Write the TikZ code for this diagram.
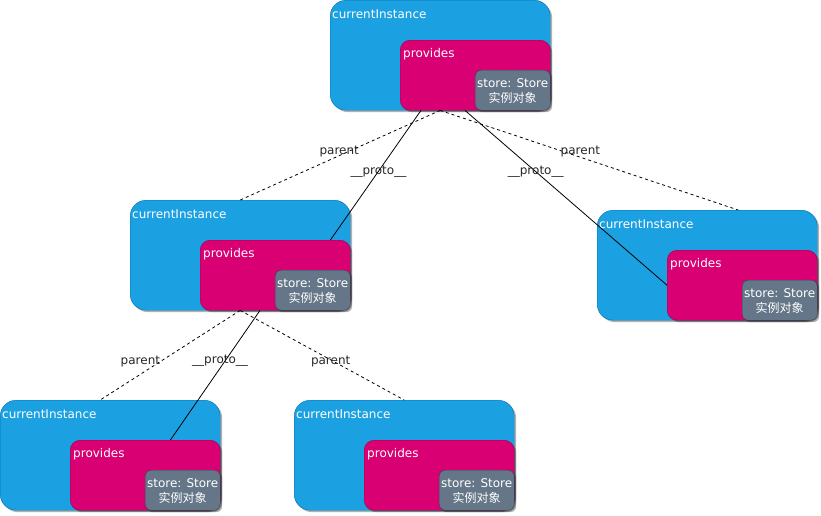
\documentclass[tikz,border=0pt]{standalone}
\usepackage{fontspec}
\setmainfont{DejaVu Sans}
\newfontfamily\cjk{Noto Sans CJK SC}
\usepackage{tikz}
\usetikzlibrary{arrows.meta, positioning, calc, shadows}
\definecolor{instFill}{HTML}{1BA1E2}
\definecolor{instLine}{HTML}{006EAF}
\definecolor{provFill}{HTML}{D80073}
\definecolor{provLine}{HTML}{A50040}
\definecolor{storeFill}{HTML}{647687}
\definecolor{storeLine}{HTML}{314354}
\newcommand{\storetext}{\raisebox{-2pt}[\height][\depth]{\begin{tabular}{@{}c@{}}store: Store\\{\cjk 实例对象}\end{tabular}}}
\tikzset{
	boxshadow/.style={drop shadow={shadow xshift=2pt, shadow yshift=-2pt, opacity=0.3, fill=black}},
	instbox/.style={draw=instLine, fill=instFill, rounded corners=16pt, minimum width=220pt, minimum height=110pt, anchor=north west, boxshadow},
	provbox/.style={draw=provLine, fill=provFill, rounded corners=10pt, minimum width=150pt, minimum height=70pt, anchor=south east, boxshadow},
	storebox/.style={draw=storeLine, fill=storeFill, rounded corners=6pt, minimum width=75pt, minimum height=40pt, anchor=south east, inner sep=0pt, text=white, font=\fontsize{12}{15}\selectfont, boxshadow},
	title/.style={anchor=west, inner sep=0pt, text=white, font=\fontsize{12}{14}\selectfont},
}

\begin{document}
\begin{tikzpicture}[
		x=1pt, y=-1pt,
		lbl/.style={inner sep=0pt, text=black!85, font=\fontsize{12}{14}\selectfont},
		parentline/.style={draw, dashed, line width=0.8pt},
		protoline/.style={draw, line width=0.8pt}
	]
	\useasboundingbox (0,0) rectangle (821,515);

	% Top instance
	\node[instbox] (instA) at (330,0) {};
	\node[title] at ([shift={(2,14)}]instA.north west) {currentInstance};
	\node[provbox] (provA) at (instA.south east) {};
	\node[title] at ([shift={(3,14.5)}]provA.north west) {provides};
	\node[storebox] (storeA) at (provA.south east) {\storetext};

	% Middle left instance
	\node[instbox] (instB) at (130,200) {};
	\node[title] at ([shift={(2,14)}]instB.north west) {currentInstance};
	\node[provbox] (provB) at (instB.south east) {};
	\node[title] at ([shift={(3,14.5)}]provB.north west) {provides};
	\node[storebox] (storeB) at (provB.south east) {\storetext};

	% Middle right instance
	\node[instbox] (instC) at (597,210) {};
	\node[title] at ([shift={(2,14)}]instC.north west) {currentInstance};
	\node[provbox] (provC) at (instC.south east) {};
	\node[title] at ([shift={(3,14.5)}]provC.north west) {provides};
	\node[storebox] (storeC) at (provC.south east) {\storetext};

	% Bottom left instance
	\node[instbox] (instD) at (0,400) {};
	\node[title] at ([shift={(2,14)}]instD.north west) {currentInstance};
	\node[provbox] (provD) at (instD.south east) {};
	\node[title] at ([shift={(3,14.5)}]provD.north west) {provides};
	\node[storebox] (storeD) at (provD.south east) {\storetext};

	% Bottom middle instance
	\node[instbox] (instE) at (294,400) {};
	\node[title] at ([shift={(2,14)}]instE.north west) {currentInstance};
	\node[provbox] (provE) at (instE.south east) {};
	\node[title] at ([shift={(3,14.5)}]provE.north west) {provides};
	\node[storebox] (storeE) at (provE.south east) {\storetext};

	% parent links
	\draw[parentline] (instA.south) -- node[lbl, pos=0.46, xshift=-9pt] {parent} (instB.north);
	\draw[parentline] (instA.south) -- node[lbl, pos=0.41, xshift=18pt] {parent} ([xshift=31pt]instC.north);
	\draw[parentline] (instB.south) -- node[lbl, pos=0.57, xshift=-20pt] {parent} ([xshift=-10pt]instD.north);
	\draw[parentline] (instB.south) -- node[lbl, pos=0.57, xshift=-3pt] {parent} (instE.north);

	% __proto__ links
	\draw[protoline] ([xshift=21pt]provA.south west) -- node[lbl, pos=0.47] {\_\_proto\_\_} ([xshift=-20pt]provB.north east);
	\draw[protoline] ([xshift=65pt]provA.south west) -- node[lbl, pos=0.35] {\_\_proto\_\_} (provC.west);
	\draw[protoline] ([xshift=60pt]provB.south west) -- node[lbl, pos=0.39, xshift=-5pt] {\_\_proto\_\_} ([xshift=-50pt]provD.north east);
\end{tikzpicture}
\end{document}
